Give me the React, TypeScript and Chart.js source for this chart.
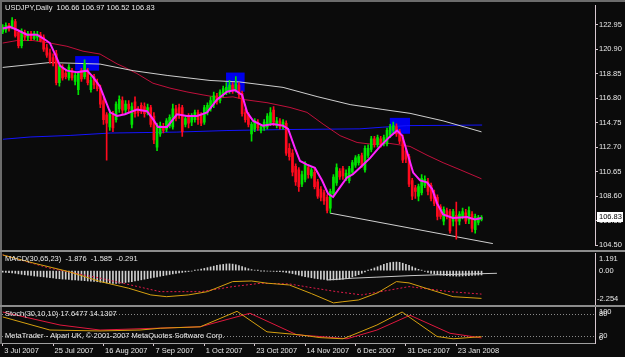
import React, { useEffect, useRef } from "react";
import { Chart, registerables } from "chart.js";
Chart.register(...registerables);

// ---------------- DATA ----------------
const symbol = "USDJPY";
const period = "Daily";

const opens = [122.35,122.5,122.9,122.7,123.2,122.3,121.2,122.3,121.9,122.2,121.8,121.9,122.1,121.9,121.0,120.6,120.2,120.5,118.1,119.3,118.9,118.5,119.1,118.2,117.5,119.1,118.6,119.1,117.5,118.6,118.1,117.6,116.6,115.4,114.4,115.4,115.0,115.9,116.6,115.8,116.3,114.6,116.5,115.9,116.2,116.1,115.6,116.0,115.3,112.7,113.8,114.4,114.2,114.5,114.4,115.9,116.0,116.0,114.6,115.2,114.8,115.0,115.6,115.4,114.8,115.6,115.9,116.3,117.0,116.6,117.1,117.3,117.4,117.9,117.5,117.9,117.2,115.6,115.4,113.8,114.2,114.8,114.1,114.3,114.4,114.7,115.8,114.5,114.9,114.4,114.7,112.6,112.2,111.1,110.8,109.6,110.0,111.0,110.3,110.6,109.8,109.2,108.9,108.5,107.6,108.8,109.7,110.7,110.9,110.1,109.9,110.6,111.2,111.4,112.0,110.8,112.0,112.5,113.4,112.9,113.4,113.0,113.0,113.7,114.1,114.4,114.0,113.5,112.4,111.9,109.9,109.3,108.6,108.9,109.5,109.8,109.5,108.8,108.5,107.7,106.5,107.4,107.3,106.5,107.0,106.5,106.9,107.2,106.6,107.1,105.8,106.4,106.66];
const highs = [122.95,123.1,123.05,123.55,123.4,122.5,122.6,122.5,122.4,122.4,122.4,122.4,122.3,122.1,121.3,120.9,120.5,120.8,119.8,119.6,119.2,119.6,119.3,118.9,119.0,119.3,120.0,119.3,118.6,118.8,118.4,117.9,116.9,115.6,115.8,115.7,116.5,117.0,116.9,116.6,116.6,116.4,116.9,116.1,116.4,116.4,116.3,116.2,115.6,114.7,114.8,114.7,115.1,115.4,116.3,116.2,116.3,116.2,115.3,115.5,115.5,115.8,115.8,115.6,116.2,116.4,116.9,117.3,117.2,117.5,117.8,118.1,118.3,118.1,118.6,118.1,117.4,115.9,115.6,114.8,115.1,115.0,114.6,115.0,115.5,116.0,116.1,115.2,115.1,115.0,114.9,113.0,112.5,111.3,111.0,110.7,111.5,111.2,111.0,110.9,110.0,109.4,109.1,108.7,109.2,110.4,111.3,110.9,111.1,110.8,111.1,111.6,112.0,112.1,112.2,112.8,112.9,113.6,113.6,113.7,113.6,113.7,114.3,114.6,114.8,114.65,114.2,113.7,112.6,112.1,110.1,109.5,109.6,110.4,110.3,110.1,109.7,109.1,108.7,107.9,107.7,107.6,107.5,107.5,108.1,107.3,107.6,107.5,107.7,107.3,107.1,107.0,106.97];
const lows = [122.2,122.3,122.4,122.6,121.9,121.0,121.0,121.7,121.6,121.6,121.7,121.6,121.5,120.7,120.2,119.7,119.5,117.9,117.8,118.3,118.4,118.3,118.3,117.9,117.1,118.2,118.4,117.9,117.3,117.6,117.4,116.0,114.6,111.6,114.1,114.0,114.8,115.6,115.5,115.5,115.6,114.3,115.2,115.3,115.5,115.2,115.4,114.4,113.0,112.4,113.6,113.9,114.0,114.3,114.2,114.9,115.1,113.6,114.4,114.3,114.5,114.8,114.6,114.5,114.6,115.4,115.7,116.0,116.3,116.4,116.9,117.1,117.2,117.2,117.3,116.8,115.3,114.8,114.4,113.2,114.0,114.1,113.9,114.1,114.2,114.5,114.5,114.3,114.2,114.2,112.0,111.6,110.3,109.5,109.0,109.4,109.8,110.1,110.1,109.2,108.4,108.2,107.9,107.2,107.2,108.6,109.5,110.0,110.0,109.9,109.7,110.4,111.0,111.2,111.0,110.6,111.8,112.3,112.7,112.7,112.7,112.8,112.8,113.5,113.9,113.6,113.0,111.4,111.4,109.4,108.3,108.4,108.2,108.7,109.3,108.7,108.2,107.8,106.6,106.7,106.2,106.7,105.5,106.1,105.0,106.2,106.7,106.3,106.3,105.6,105.5,106.2,106.52];
const closes = [122.75,122.9,122.6,123.3,122.0,121.2,122.4,121.9,122.2,121.8,122.2,122.1,121.6,120.9,120.4,119.9,119.7,118.1,119.5,118.5,118.6,119.4,118.5,118.7,118.9,118.4,119.7,118.1,118.3,117.9,117.6,116.3,115.0,114.7,115.5,114.3,116.3,116.7,115.8,116.3,115.9,116.1,115.5,115.6,115.7,115.5,116.0,114.6,113.3,114.5,114.5,114.1,114.9,115.2,115.9,115.1,115.5,114.0,115.1,114.7,115.3,115.6,115.0,114.7,116.0,116.2,116.6,117.0,116.5,117.3,117.6,117.7,117.9,117.4,118.0,117.1,115.5,115.0,114.6,114.6,114.9,114.3,114.4,114.8,115.3,115.6,114.8,114.9,114.4,114.8,112.2,111.9,110.6,109.8,109.4,110.4,111.3,110.4,110.8,109.4,108.6,108.5,108.2,107.4,109.0,110.2,111.0,110.2,110.3,110.5,110.9,111.4,111.8,111.9,111.2,112.6,112.6,113.4,112.9,113.5,112.9,113.5,114.1,114.4,114.5,113.8,113.2,111.6,111.7,109.6,108.6,109.0,109.4,110.1,110.0,109.0,108.4,108.0,106.9,106.9,107.5,106.9,105.7,107.3,106.5,107.1,107.3,106.5,107.4,105.9,106.9,106.8,106.83];

// moving averages (at sample bars)
const fastIdx = [0,2.3,4.5,7.7,10.9,12.8,15,16.6,18.2,20.4,23.6,26.8,28.7,30.9,32.5,34.1,36.3,38.8,42.6,45.8,47.7,49.3,52.2,55.3,58.5,61.7,64.9,68,71.2,73.7,76,77.6,79.5,82.6,85.8,89,90.6,92.8,94.4,96.6,99.1,101.4,103.3,104.9,107.1,109.3,111.2,113.4,116.6,119.8,122.9,125.2,126.8,128.3,130.3,132.5,134.7,136.3,137.9,139.8,142.9,147.4,149.9,152];
const fastVal = [122.62,122.76,122.52,122.11,122.11,121.81,121.41,120.49,119.51,119.1,118.97,119.1,118.56,117.75,116.67,115.61,115.31,115.45,115.85,115.71,115.04,114.39,114.39,115.45,115.31,115.31,115.61,116.67,117.34,117.48,117.07,115.61,114.9,114.5,114.63,114.5,114.23,112.6,111.54,111.24,110.97,109.91,108.8,108.53,109.35,110.16,110.43,110.97,111.78,112.76,113.58,114.09,113.68,112.36,110.57,109.92,109.76,109.21,107.99,107.07,106.77,106.85,106.64,106.77];
const midIdx = [0,4.5,9.6,15,20.4,25.5,30.9,36.3,38.8,42.6,47.7,53.1,58.5,63.6,69,73.1,76.9,83.9,91.2,96.6,101.7,107.1,112.5,117.6,122.9,129.3,134.7,139.8,145.2,152];
const midVal = [121.41,121.62,121.62,121.41,121.14,120.73,120.49,119.67,119.37,118.86,118.05,117.64,117.32,117.07,116.83,116.91,116.67,116.42,116.02,115.61,114.63,113.66,113.09,112.93,113.01,112.76,112.03,111.4,110.81,110.05];
const slowIdx = [0,15,30.9,41.4,52.2,65.8,75.3,89,99.8,110.3,120.7,129.3,139.8,152];
const slowVal = [119.37,119.78,119.65,119.1,118.7,118.28,118.15,117.7,116.93,116.26,115.85,115.53,114.9,113.98];
const blueIdx = [0.1,8.7,21.4,34.1,55.3,71.2,89,113.4,120.7,128.3,152.2];
const blueVal = [113.36,113.55,113.68,113.88,113.96,114.09,114.17,114.23,114.37,114.5,114.55];
const supportIdx = [103.9,155.6];
const supportVal = [107.18,104.63];

// rectangles (bar index range, price range)
const rectStart = [23.0,70.9,122.9];
const rectEnd = [30.6,76.8,129.3];
const rectHigh = [120.32,118.94,115.15];
const rectLow = [119.1,117.34,113.82];

const priceTicks = [104.5,106.55,108.6,110.65,112.7,114.75,116.8,118.85,120.9,122.95];

// MACD(30,65,23)
const macdHist = [-0.10,-0.12,-0.14,-0.15,-0.18,-0.22,-0.25,-0.28,-0.30,-0.33,-0.36,-0.38,-0.40,-0.42,-0.45,-0.47,-0.50,-0.53,-0.55,-0.57,-0.58,-0.60,-0.62,-0.63,-0.65,-0.66,-0.68,-0.70,-0.71,-0.73,-0.75,-0.78,-0.80,-0.83,-0.85,-0.86,-0.86,-0.85,-0.83,-0.80,-0.77,-0.74,-0.70,-0.66,-0.62,-0.58,-0.54,-0.50,-0.46,-0.42,-0.38,-0.34,-0.30,-0.26,-0.22,-0.18,-0.15,-0.12,-0.09,-0.06,-0.03,0.02,0.06,0.10,0.15,0.20,0.25,0.30,0.35,0.39,0.42,0.45,0.46,0.44,0.40,0.34,0.27,0.20,0.13,0.07,0.03,0.01,-0.01,-0.02,-0.03,-0.04,-0.05,-0.06,-0.07,-0.09,-0.12,-0.16,-0.20,-0.25,-0.30,-0.35,-0.40,-0.44,-0.48,-0.52,-0.55,-0.58,-0.60,-0.62,-0.63,-0.63,-0.62,-0.60,-0.57,-0.53,-0.48,-0.42,-0.35,-0.27,-0.18,-0.09,0.02,0.10,0.18,0.26,0.34,0.42,0.49,0.54,0.57,0.58,0.56,0.50,0.43,0.35,0.26,0.17,0.09,0.02,-0.05,-0.12,-0.18,-0.23,-0.27,-0.30,-0.32,-0.34,-0.35,-0.36,-0.37,-0.37,-0.36,-0.35,-0.34,-0.32,-0.31,-0.30,-0.291];
const macdMainIdx = [0,10,21,31,40,47,52,59,65,73,79,84,91,98,105,108,113,119,125,129,136,143,152];
const macdMainVal = [1.06,0.5,-0.07,-0.74,-1.19,-1.64,-1.76,-1.64,-1.42,-0.74,-0.70,-0.85,-0.97,-1.55,-2.18,-2.1,-1.98,-1.5,-0.74,-0.83,-1.3,-1.76,-1.876];
const macdSigIdx = [0,15,31,50,63,73,82,91,98,106,114,120,129,142,152];
const macdSigVal = [1.06,0.16,-0.51,-1.42,-1.42,-1.08,-0.85,-0.9,-1.15,-1.42,-1.64,-1.42,-1.08,-1.42,-1.585];
const macdLineIdx = [103,111.2,118.8,129.3,136.6,156.9];
const macdLineVal = [-0.63,-0.51,-0.44,-0.34,-0.29,-0.18];
const macdLast = [-1.876,-1.585,-0.291];

// Stoch(30,10,10)
const stochMainIdx = [0,15,30.9,43.6,50,62.7,74.4,83.9,94.4,100.7,108,111.2,118.8,126.8,137.9,143,152];
const stochMainVal = [72.5,36,33.5,36,41,45,88,31,22.6,15,11.7,22.6,50,86,18,11.7,17.6477];
const stochSigIdx = [0,18.2,30.9,62.7,78.5,93.4,100.7,109.3,118.8,129.3,142,152];
const stochSigVal = [86,50,36,45,82.6,22.6,18,11.7,36,77,27,14.1307];

const dateIdx = [0,16,32,48,64,80,96,112,128,144];
const dateLabels = ["3 Jul 2007","25 Jul 2007","16 Aug 2007","7 Sep 2007","1 Oct 2007","23 Oct 2007","14 Nov 2007","6 Dec 2007","31 Dec 2007","23 Jan 2008"];

// ---------------- STYLE ----------------
const BG = "#0b0b0b";
const FONT = "'Liberation Sans', Arial, sans-serif";
const FS = 7.5;
const TXT = "#e8e8e8";
const AXIS = "#d8c8d0";
const UP = "#00e400";
const DOWN = "#ff0a1e";
const XMIN = -0.222;
const XMAX = 188.03;

const pts = (ix: number[], v: number[]) => ix.map((x, k) => ({ x, y: v[k] }));

const xHidden: any = { type: "linear", min: XMIN, max: XMAX, display: false, offset: false, grid: { offset: false } };

function sideAxis(min: number, max: number, extra: any = {}) {
  return {
    position: "right",
    min,
    max,
    afterFit: (s: any) => { s.width = 30; },
    grid: { drawOnChartArea: false, drawTicks: false, color: AXIS },
    border: { color: AXIS, width: 1 },
    ticks: { display: false },
    ...extra,
  };
}

const baseOpts: any = {
  responsive: false,
  animation: false,
  devicePixelRatio: 1,
  events: [],
  plugins: { legend: { display: false }, tooltip: { enabled: false } },
};

function drawText(ctx: CanvasRenderingContext2D, s: string, x: number, y: number, color = TXT) {
  ctx.save();
  ctx.font = `${FS}px ${FONT}`;
  ctx.fillStyle = color;
  ctx.textBaseline = "middle";
  ctx.textAlign = "left";
  ctx.fillText(s, x, y);
  ctx.restore();
}

export default function App() {
  const mainRef = useRef<HTMLCanvasElement>(null);
  const macdRef = useRef<HTMLCanvasElement>(null);
  const stochRef = useRef<HTMLCanvasElement>(null);

  useEffect(() => {
    const colors = closes.map((c, i) => (c >= opens[i] ? UP : DOWN));
    const last = closes.length - 1;

    const rectPlugin = {
      id: "rects",
      beforeDatasetsDraw(chart: any) {
        const { ctx, scales, chartArea } = chart;
        ctx.save();
        ctx.beginPath();
        ctx.rect(chartArea.left, chartArea.top, chartArea.right - chartArea.left, chartArea.bottom - chartArea.top);
        ctx.clip();
        ctx.fillStyle = "#0000ec";
        rectStart.forEach((s, k) => {
          const x1 = scales.x.getPixelForValue(s);
          const x2 = scales.x.getPixelForValue(rectEnd[k]);
          const y1 = scales.y.getPixelForValue(rectHigh[k]);
          const y2 = scales.y.getPixelForValue(rectLow[k]);
          ctx.fillRect(x1, y1, x2 - x1, y2 - y1);
        });
        ctx.restore();
      },
      afterDraw(chart: any) {
        const { ctx, scales } = chart;
        drawText(ctx, `${symbol},${period}  ${opens[last].toFixed(2)} ${highs[last].toFixed(2)} ${lows[last].toFixed(2)} ${closes[last].toFixed(2)}`, 5, 8);
        const y = Math.round(scales.y.getPixelForValue(closes[last]));
        ctx.save();
        ctx.fillStyle = "#ffffff";
        ctx.fillRect(597, y - 5, 26, 10);
        ctx.restore();
        drawText(ctx, closes[last].toFixed(2), 599, y, "#000000");
      },
    };

    const main = new Chart(mainRef.current!, {
      type: "bar",
      data: {
        datasets: [
          { type: "line", data: pts(fastIdx, fastVal), borderColor: "#ff22ff", borderWidth: 2, pointRadius: 0, order: 0 } as any,
          { type: "bar", data: opens.map((o, i) => ({ x: i, y: [o, closes[i]] })), backgroundColor: colors, barThickness: 2, grouped: false, minBarLength: 1, order: 1 } as any,
          { type: "bar", data: lows.map((l, i) => ({ x: i, y: [l, highs[i]] })), backgroundColor: colors, barThickness: 1, grouped: false, order: 2 } as any,
          { type: "line", data: pts(slowIdx, slowVal), borderColor: "#cfcfcf", borderWidth: 1, pointRadius: 0, order: 3 } as any,
          { type: "line", data: pts(midIdx, midVal), borderColor: "#c0103c", borderWidth: 1, pointRadius: 0, order: 3 } as any,
          { type: "line", data: pts(blueIdx, blueVal), borderColor: "#1414ff", borderWidth: 1, pointRadius: 0, order: 3 } as any,
          { type: "line", data: pts(supportIdx, supportVal), borderColor: "#d0d0d0", borderWidth: 1, pointRadius: 0, order: 3 } as any,
        ],
      },
      options: {
        ...baseOpts,
        layout: { padding: { left: 2, top: 3, bottom: 1, right: 0 } },
        scales: {
          x: xHidden,
          y: {
            position: "right",
            min: 104.47,
            max: 124.552,
            afterFit: (s: any) => { s.width = 30; },
            afterBuildTicks: (s: any) => { s.ticks = priceTicks.map((v) => ({ value: v })); },
            grid: { drawOnChartArea: false, drawTicks: true, tickLength: 3, color: AXIS },
            border: { color: AXIS, width: 1 },
            ticks: { color: TXT, font: { family: FONT, size: FS }, padding: 1, callback: (v: any) => Number(v).toFixed(2) },
          },
        },
      },
      plugins: [rectPlugin],
    });

    const macdPlugin = {
      id: "macdText",
      afterDraw(chart: any) {
        const { ctx, scales } = chart;
        drawText(ctx, `MACD(30,65,23)  ${macdLast.map((v) => v.toFixed(3)).join("  ")}`, 5, 7);
        const y = scales.y;
        drawText(ctx, "1.191", 599, y.getPixelForValue(1.191) + 6);
        drawText(ctx, "0.00", 599, y.getPixelForValue(0));
        drawText(ctx, "-2.254", 597, y.getPixelForValue(-2.254) - 5);
      },
    };

    const macd = new Chart(macdRef.current!, {
      type: "bar",
      data: {
        datasets: [
          { type: "line", data: pts(macdMainIdx, macdMainVal), borderColor: "#d6a010", borderWidth: 1, pointRadius: 0, order: 0 } as any,
          { type: "line", data: pts(macdSigIdx, macdSigVal), borderColor: "#e01a4a", borderWidth: 1, borderDash: [2, 2], pointRadius: 0, order: 1 } as any,
          { type: "line", data: pts(macdLineIdx, macdLineVal), borderColor: "#c8c8c8", borderWidth: 1, pointRadius: 0, order: 2 } as any,
          { type: "bar", data: macdHist.map((v, i) => ({ x: i, y: v })), backgroundColor: "#cfcfcf", barThickness: 1, grouped: false, order: 3 } as any,
        ],
      },
      options: {
        ...baseOpts,
        layout: { padding: { left: 2, top: 1, bottom: 1, right: 0 } },
        scales: { x: xHidden, y: sideAxis(-2.254, 1.191) },
      },
      plugins: [macdPlugin],
    });

    const stochPlugin = {
      id: "stochText",
      beforeDatasetsDraw(chart: any) {
        const { ctx, scales, chartArea } = chart;
        ctx.save();
        ctx.strokeStyle = "#8a8a8a";
        ctx.lineWidth = 1;
        ctx.setLineDash([1, 2]);
        [80, 20].forEach((v) => {
          const y = Math.round(scales.y.getPixelForValue(v)) + 0.5;
          ctx.beginPath();
          ctx.moveTo(chartArea.left, y);
          ctx.lineTo(chartArea.right, y);
          ctx.stroke();
        });
        ctx.restore();
      },
      afterDraw(chart: any) {
        const { ctx, scales } = chart;
        drawText(ctx, `Stoch(30,10,10) ${stochMainVal[stochMainVal.length - 1].toFixed(4)} ${stochSigVal[stochSigVal.length - 1].toFixed(4)}`, 5, 9);
        drawText(ctx, "MetaTrader - Alpari UK, \u00a9 2001-2007 MetaQuotes Software Corp.", 5, 31);
        const y = scales.y;
        drawText(ctx, "100", 599, y.getPixelForValue(100) + 5);
        drawText(ctx, "80", 599, y.getPixelForValue(80));
        drawText(ctx, "20", 599, y.getPixelForValue(20));
        drawText(ctx, "0", 599, y.getPixelForValue(0) - 5);
      },
    };

    const stoch = new Chart(stochRef.current!, {
      type: "line",
      data: {
        datasets: [
          { data: pts(stochMainIdx, stochMainVal), borderColor: "#d6a010", borderWidth: 1, pointRadius: 0 },
          { data: pts(stochSigIdx, stochSigVal), borderColor: "#e0183e", borderWidth: 1, pointRadius: 0 },
        ],
      },
      options: {
        ...baseOpts,
        layout: { padding: { left: 2, top: 2, bottom: 0, right: 0 } },
        scales: {
          x: {
            type: "linear",
            min: XMIN,
            max: XMAX,
            position: "bottom",
            offset: false,
            afterFit: (s: any) => { s.height = 14; },
            afterBuildTicks: (s: any) => { s.ticks = dateIdx.map((v) => ({ value: v })); },
            grid: { drawOnChartArea: false, drawTicks: true, tickLength: 3, color: AXIS, offset: false },
            border: { color: "#a0a0a0", width: 1 },
            ticks: { color: TXT, font: { family: FONT, size: FS }, autoSkip: false, maxRotation: 0, minRotation: 0, align: "start", labelOffset: 1.5, padding: 0, callback: (_v: any, idx: number) => dateLabels[idx] },
          },
          y: sideAxis(0, 100),
        },
      },
      plugins: [stochPlugin],
    });

    return () => {
      main.destroy();
      macd.destroy();
      stoch.destroy();
    };
  }, []);

  const abs = (top: number, h: number): React.CSSProperties => ({ position: "absolute", left: 0, top, width: 625, height: h, display: "block" });
  const line = (top: number, h: number, color: string): React.CSSProperties => ({ position: "absolute", left: 0, top, width: 625, height: h, background: color });

  return (
    <div style={{ position: "fixed", left: 0, top: 0, width: 625, height: 357, background: BG, overflow: "hidden" }}>
      <canvas ref={mainRef} width={625} height={251} style={abs(0, 251)} />
      <canvas ref={macdRef} width={625} height={53} style={abs(252, 53)} />
      <canvas ref={stochRef} width={625} height={52} style={abs(305, 52)} />
      <div style={line(0, 2, "#6c6c6c")} />
      <div style={{ position: "absolute", left: 0, top: 0, width: 2, height: 344, background: "#6c6c6c" }} />
      <div style={line(250, 2, "#8c8c8c")} />
      <div style={line(305, 2, "#8c8c8c")} />
    </div>
  );
}
